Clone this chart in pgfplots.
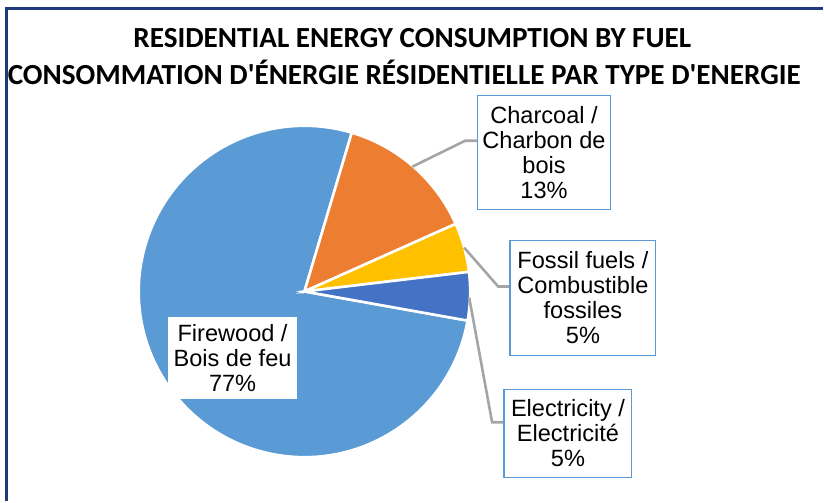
\documentclass[border=0pt]{standalone}
\usepackage{pgfplots}
\pgfplotsset{compat=1.18}
\usepackage{pgfplotstable}
\usepackage{fontspec}
\setmainfont{Liberation Sans}
\newfontfamily\titlefont{Carlito}
\definecolor{firewood}{HTML}{5B9BD5}
\definecolor{charcoal}{HTML}{ED7D31}
\definecolor{fossil}{HTML}{FFC000}
\definecolor{elec}{HTML}{4472C4}
\definecolor{boxblue}{HTML}{5B9BD5}
\definecolor{leader}{HTML}{A5A5A5}
\definecolor{frame}{HTML}{1F3A7A}
\pgfplotstableread{
name value
Charcoal 13.7
Fossil 4.8
Electricity 4.7
Firewood 76.8
}\piedata
\begin{document}
\begin{tikzpicture}
\pgfplotstablegetelem{0}{value}\of\piedata \pgfmathsetmacro\vA{\pgfplotsretval}
\pgfplotstablegetelem{1}{value}\of\piedata \pgfmathsetmacro\vB{\pgfplotsretval}
\pgfplotstablegetelem{2}{value}\of\piedata \pgfmathsetmacro\vC{\pgfplotsretval}
\pgfplotstablegetelem{3}{value}\of\piedata \pgfmathsetmacro\vD{\pgfplotsretval}
\pgfmathsetmacro\aA{73.4}
\pgfmathsetmacro\aB{\aA-3.6*\vA}
\pgfmathsetmacro\aC{\aB-3.6*\vB}
\pgfmathsetmacro\aD{\aC-3.6*\vC}
\pgfmathsetmacro\aE{\aD-3.6*\vD}
\begin{axis}[scale only axis, width=412pt, height=251pt,
  xmin=0, xmax=824, ymin=0, ymax=502, y dir=reverse,
  hide axis, clip=false]
\path (axis cs:0,0) rectangle (axis cs:824,502);
% slices
\fill[firewood, draw=white, line width=1.3pt] (axis cs:305,292) -- ++(\aD:83pt) arc[start angle=\aD, end angle=\aE, radius=83pt] -- cycle;
\fill[charcoal, draw=white, line width=1.3pt] (axis cs:305,292) -- ++(\aA:83pt) arc[start angle=\aA, end angle=\aB, radius=83pt] -- cycle;
\fill[fossil, draw=white, line width=1.3pt] (axis cs:305,292) -- ++(\aB:83pt) arc[start angle=\aB, end angle=\aC, radius=83pt] -- cycle;
\fill[elec, draw=white, line width=1.3pt] (axis cs:305,292) -- ++(\aC:83pt) arc[start angle=\aC, end angle=\aD, radius=83pt] -- cycle;
% leaders
\draw[leader, line width=1.3pt] (axis cs:413,167) -- (axis cs:466,141) -- (axis cs:478,141);
\draw[leader, line width=1.3pt] (axis cs:465,248) -- (axis cs:499,287) -- (axis cs:511,287);
\draw[leader, line width=1.3pt] (axis cs:470,298) -- (axis cs:493,423) -- (axis cs:505,423);
% labels
\node[draw=boxblue, fill=white, line width=0.6pt, minimum width=67pt, minimum height=57pt, align=center, inner sep=0pt, font=\fontsize{11.8}{12.5}\selectfont] at (axis cs:545,153) {Charcoal /\\Charbon de\\bois\\13\%};
\node[draw=boxblue, fill=white, line width=0.6pt, minimum width=73pt, minimum height=57.5pt, align=center, inner sep=0pt, font=\fontsize{11.8}{12.5}\selectfont] at (axis cs:584,298.5) {Fossil fuels /\\Combustible\\fossiles\\5\%};
\node[draw=boxblue, fill=white, line width=0.6pt, minimum width=64pt, minimum height=44pt, align=center, inner sep=0pt, font=\fontsize{11.8}{12.5}\selectfont] at (axis cs:569,434) {Electricity /\\Electricité\\5\%};
\node[fill=white, minimum width=65pt, minimum height=41pt, align=center, inner sep=0pt, font=\fontsize{11.8}{12.5}\selectfont] at (axis cs:233,359) {Firewood /\\Bois de feu\\77\%};
% title
\node[font=\titlefont\bfseries\fontsize{14.6}{17}\selectfont] at (axis cs:413,38) {RESIDENTIAL ENERGY CONSUMPTION BY FUEL};
\node[font=\titlefont\bfseries\fontsize{14.6}{17}\selectfont] at (axis cs:405,72) {CONSOMMATION D'ÉNERGIE RÉSIDENTIELLE PAR TYPE D'ENERGIE};
% frame
\draw[frame, line width=1.5pt] (axis cs:7,502) -- (axis cs:7,9) -- (axis cs:824,9);
\end{axis}
\end{tikzpicture}
\end{document}
